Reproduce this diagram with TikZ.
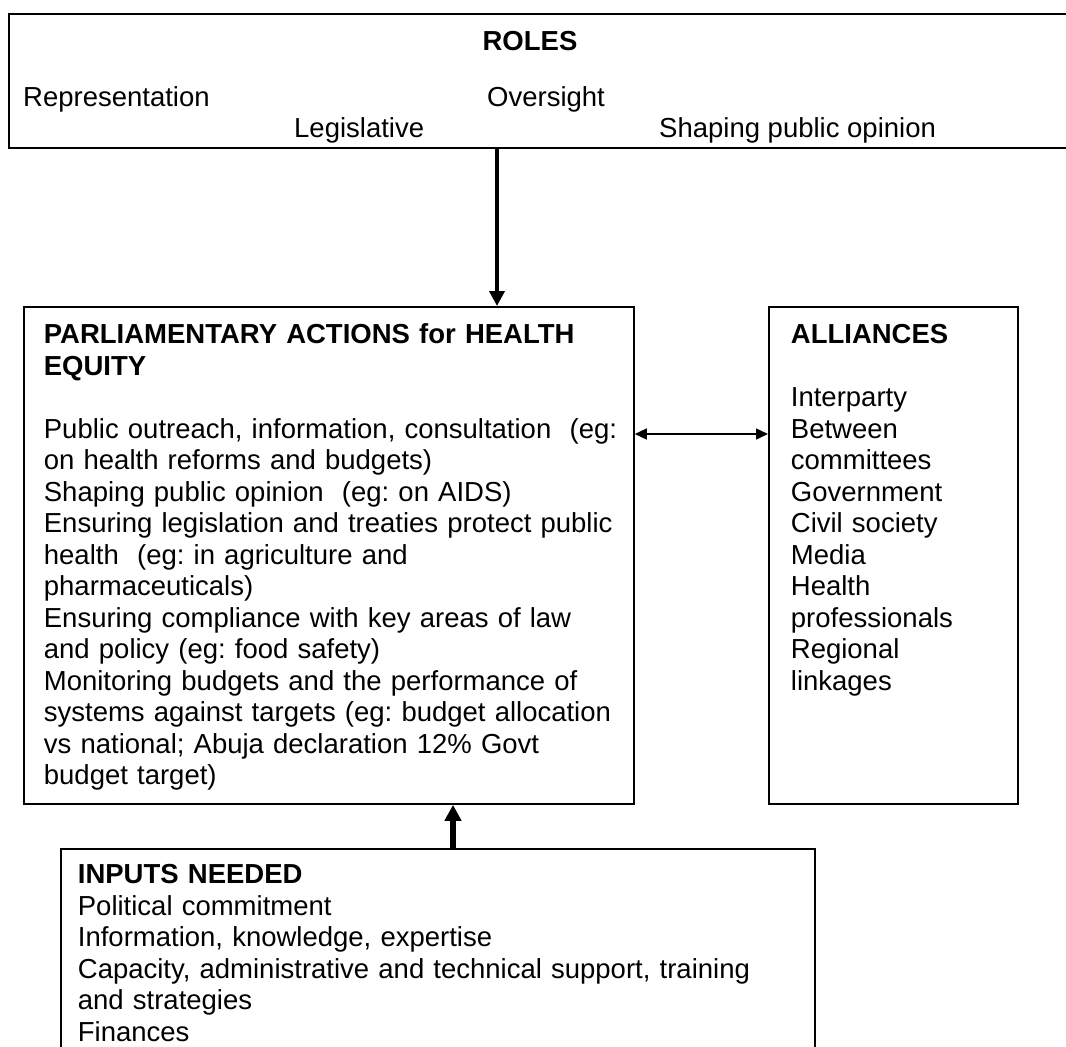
\documentclass[tikz,border=0pt]{standalone}
\usepackage{fontspec}
\setmainfont{Liberation Sans}
\usepackage{tikz}
\usetikzlibrary{arrows.meta}
\frenchspacing

\begin{document}
\begin{tikzpicture}[x=1pt,y=-1pt,
	every node/.style={font=\fontsize{27.5}{31.5}\selectfont},
	box/.style={draw,line width=1.8pt,anchor=north west,align=left,inner xsep=20pt,inner ysep=0pt},
	word/.style={anchor=base west,inner sep=0pt},
	bigarrow/.style={line width=4.5pt,-{Triangle[length=15pt,width=15pt]}},
	twoarrow/.style={line width=1.5pt,{Triangle[length=12pt,width=11pt]}-{Triangle[length=12pt,width=11pt]}},
	]
	\useasboundingbox (0,0) rectangle (1066,1047);
	
	% roles (right side runs off the page)
	\node[box,minimum width=1100pt,minimum height=134pt,inner sep=0pt] (roles) at (8,13) {};
	\node[anchor=base,inner sep=0pt] (rtitle) at (530,50) {\textbf{ROLES}};
	\node[word] (repr) at (23,106) {Representation};
	\node[word] (over) at (487,106) {Oversight};
	\node[word] (legis) at (294,137) {Legislative};
	\node[word] (shape) at (659,137) {Shaping public opinion};
	
	% actions
	\node[box,text width=570pt,text height=37pt,text depth=460pt] (actions) at (23,306) {%
		\textbf{PARLIAMENTARY ACTIONS for HEALTH}\\
		\textbf{EQUITY}\\[31.5pt]
		\mbox{Public outreach, information, consultation\ \ (eg:}\\
		on health reforms and budgets)\\
		Shaping public opinion\ \ (eg: on AIDS)\\
		\mbox{Ensuring legislation and treaties protect public}\\
		health\ \ (eg: in agriculture and\\
		pharmaceuticals)\\
		Ensuring compliance with key areas of law\\
		and policy (eg: food safety)\\
		\mbox{Monitoring budgets and the performance of}\\
		\mbox{systems against targets (eg: budget allocation}\\
		vs national; Abuja declaration 12\% Govt\\
		budget target)};
	
	% alliances
	\node[box,inner xsep=22pt,text width=205pt,text height=37pt,text depth=460pt] (alliances) at (768,306) {%
		\textbf{ALLIANCES}\\[31.5pt]
		Interparty\\
		Between\\
		committees\\
		Government\\
		Civil society\\
		Media\\
		Health\\
		professionals\\
		Regional\\
		linkages};
	
	% inputs (bottom runs off the page)
	\node[box,inner xsep=17pt,text width=720pt,text height=35pt,text depth=250pt] (inputs) at (60,848) {%
		\textbf{INPUTS NEEDED}\\
		Political commitment\\
		Information, knowledge, expertise\\
		Capacity, administrative and technical support, training\\
		and strategies\\
		Finances};
	
	% arrows
	\coordinate (rdown) at (497,147);
	\coordinate (iup) at (453,848);
	\draw[bigarrow] (rdown) -- (rdown |- actions.north);
	\draw[bigarrow,line width=5.5pt,-{Triangle[length=16pt,width=16pt]}] (iup) -- (iup |- actions.south);
	\draw[twoarrow] (actions.east |- 0,434) -- (alliances.west |- 0,434);
\end{tikzpicture}
\end{document}
